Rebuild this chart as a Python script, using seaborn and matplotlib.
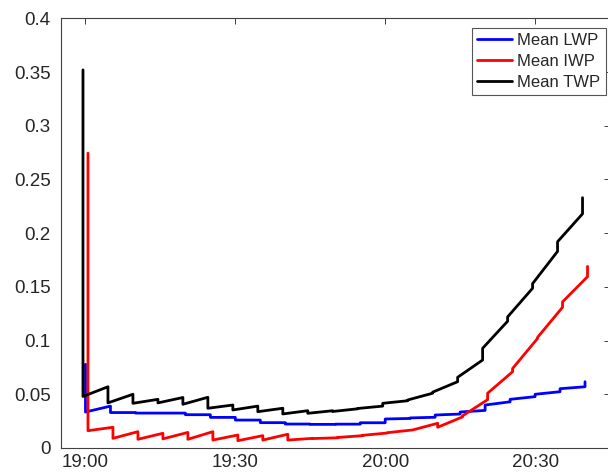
import matplotlib
matplotlib.use("Agg")
import matplotlib.pyplot as plt
import matplotlib.dates as mdates
import pandas as pd
import seaborn as sns

# model output restarts every 5 minutes; values read at start/end of each piece
# (minutes after 19:00)
piece_edges = [0, 5, 10, 15, 20, 25, 30, 35, 40, 45, 50,
               55, 60, 65, 70, 75, 80, 85, 90, 95, 100]

# Mean LWP
lwp_first = 0.078
lwp_start = [0.0335, 0.033, 0.0325, 0.0325, 0.031, 0.0285, 0.026, 0.0236, 0.0223, 0.022,
             0.0222, 0.0235, 0.027, 0.028, 0.0307, 0.0335, 0.040, 0.0453, 0.050, 0.0552]
lwp_end = [0.039, 0.033, 0.0325, 0.0325, 0.031, 0.0285, 0.026, 0.0236, 0.0223, 0.022,
           0.0222, 0.0235, 0.0275, 0.0286, 0.0316, 0.035, 0.043, 0.0478, 0.0524, 0.057]
lwp_last = 0.0617

# Mean IWP
iwp_first = 0.2745
iwp_start = [0.0161, 0.009, 0.0081, 0.0085, 0.0081, 0.0074, 0.0068, 0.0074, 0.0074, 0.0088,
             0.0098, 0.0118, 0.0143, 0.0168, 0.0193, 0.030, 0.051, 0.074, 0.103, 0.136]
iwp_end = [0.0193, 0.0152, 0.0137, 0.0145, 0.0152, 0.0121, 0.0115, 0.0128, 0.009, 0.0095,
           0.0115, 0.014, 0.0168, 0.023, 0.029, 0.045, 0.071, 0.102, 0.131, 0.1595]
iwp_last = 0.169

# Mean TWP
twp_first = 0.352
twp_start = [0.048, 0.042, 0.0416, 0.042, 0.0407, 0.037, 0.0354, 0.0338, 0.0317, 0.0323,
             0.034, 0.0368, 0.0416, 0.0447, 0.052, 0.0658, 0.0928, 0.122, 0.153, 0.192]
twp_end = [0.057, 0.050, 0.0453, 0.047, 0.0472, 0.040, 0.039, 0.037, 0.0347, 0.0347,
           0.0365, 0.039, 0.044, 0.051, 0.0617, 0.0819, 0.118, 0.1487, 0.183, 0.218]
twp_last = 0.233

# small time offset of each series (minutes)
series_shift = {"Mean LWP": 0.0, "Mean IWP": 0.5, "Mean TWP": -0.5}

series_names = ["Mean LWP", "Mean IWP", "Mean TWP"]
series_colors = ["#0000ff", "#ff0000", "#000000"]

y_ticks = [0, 0.05, 0.1, 0.15, 0.2, 0.25, 0.3, 0.35, 0.4]
y_labels = ["0", "0.05", "0.1", "0.15", "0.2", "0.25", "0.3", "0.35", "0.4"]
x_ticks = ["19:00", "19:30", "20:00", "20:30"]

base = pd.Timestamp("2000-01-01 19:00")

rows = []
all_series = {
    "Mean LWP": (lwp_first, lwp_start, lwp_end, lwp_last),
    "Mean IWP": (iwp_first, iwp_start, iwp_end, iwp_last),
    "Mean TWP": (twp_first, twp_start, twp_end, twp_last),
}
for name, (first, starts, ends, last) in all_series.items():
    sh = series_shift[name]
    pts = [(piece_edges[0], first)]
    for k in range(len(starts)):
        pts.append((piece_edges[k], starts[k]))
        pts.append((piece_edges[k + 1], ends[k]))
    pts.append((piece_edges[-1], last))
    for t, v in pts:
        rows.append({"time": base + pd.Timedelta(minutes=t + sh), "value": v, "series": name})
df = pd.DataFrame(rows)

sns.set_style("white")
plt.rcParams["font.family"] = ["Liberation Sans", "DejaVu Sans"]

fig = plt.figure(figsize=(6.08, 4.74), dpi=100)
ax = fig.add_axes([60.5 / 608, 26 / 474, 549.5 / 608, 429.7 / 474])

sns.lineplot(data=df, x="time", y="value", hue="series", hue_order=series_names,
             palette=series_colors, estimator=None, sort=False, linewidth=2.0, ax=ax)

ax.set_xlim(base - pd.Timedelta(minutes=5), base + pd.Timedelta(minutes=105))
ax.set_ylim(0, 0.4)
ax.set_xticks([pd.Timestamp("2000-01-01 " + s) for s in x_ticks])
ax.xaxis.set_major_formatter(mdates.DateFormatter("%H:%M"))
ax.set_yticks(y_ticks)
ax.set_yticklabels(y_labels)
ax.set_xlabel("")
ax.set_ylabel("")

for sp in ax.spines.values():
    sp.set_visible(True)
    sp.set_color("#404040")
    sp.set_linewidth(0.8)
ax.tick_params(direction="in", top=True, right=True, length=4, width=0.7,
               color="#404040", labelsize=13.5, labelcolor="#262626")
ax.tick_params(axis="x", pad=4)
ax.tick_params(axis="y", pad=7)

leg = ax.legend(loc="upper right", bbox_to_anchor=(0.992, 0.977), borderaxespad=0,
                fontsize=12, frameon=True, fancybox=False, edgecolor="#555555",
                handlelength=2.1, handletextpad=0.3, labelspacing=0.34, borderpad=0.3)
leg.get_frame().set_linewidth(0.8)
leg.get_frame().set_alpha(1)

fig.savefig("out.png", dpi=100)
